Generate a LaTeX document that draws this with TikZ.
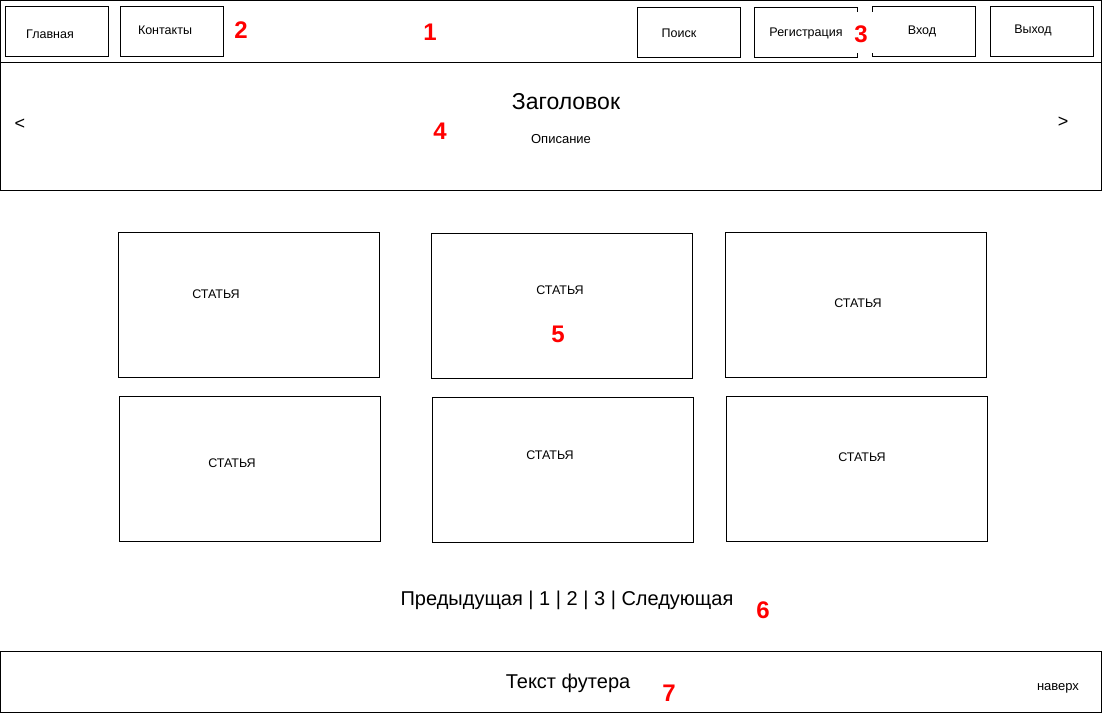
\documentclass[tikz,border=0pt]{standalone}
\usepackage{fontspec}
\setmainfont{Liberation Sans}
\begin{document}
\begin{tikzpicture}[x=1pt,y=-1pt,
  box/.style={draw=black,line width=1pt,fill=none,inner sep=0pt,minimum width=103pt,minimum height=50pt},
  art/.style={draw=black,line width=1pt,inner sep=0pt,minimum width=261pt,minimum height=145pt},
  small/.style={font=\fontsize{12.5}{14}\selectfont,inner sep=0pt},
  mid/.style={font=\fontsize{20}{24}\selectfont,inner sep=0pt},
  num/.style={text=red,font=\fontsize{24}{28}\selectfont\bfseries,inner sep=0pt}]
\useasboundingbox (0,0) rectangle (1103,713);
% header / slider frame
\draw[line width=1pt] (0.5,0.5) rectangle (1101.5,190.5);
\draw[line width=1pt] (0.5,62.5) -- (1101.5,62.5);
% menu boxes
\node[box] (home) at (56.5,31.5) {};
\node[small] (thome) at (50,34.5) {Главная};
\node[box] (cont) at (171.5,31.5) {};
\node[small] (tcont) at (165,30.5) {Контакты};
\node[num] (n2) at (241,30) {2};
\node[num] (n1) at (430,32) {1};
\node[box] (search) at (688.5,32.5) {};
\node[small] (tsearch) at (679,33.5) {Поиск};
\node[box] (reg) at (805.5,32.5) {};
\node[small] (treg) at (806,33.5) {Регистрация};
\node[box] (login) at (923.5,31.5) {};
\node[small] (tlogin) at (922,31.5) {Вход};
\node[box] (logout) at (1041.5,31.5) {};
\node[small] (tlogout) at (1033,30.5) {Выход};
\fill[white] (855.5,12) rectangle (873.5,53);
\node[num] (n3) at (861,34) {3};
% slider
\node[font=\fontsize{18}{22}\selectfont,inner sep=0pt] (prev) at (20,124.5) {<};
\node[font=\fontsize{18}{22}\selectfont,inner sep=0pt] (next) at (1063,122.5) {>};
\node[font=\fontsize{23}{27}\selectfont,inner sep=0pt] (title) at (566,101.5) {Заголовок};
\node[small,font=\fontsize{13}{15}\selectfont] (desc) at (561,139) {Описание};
\node[num] (n4) at (440,131) {4};
% articles
\node[art] (a1) at (248.5,304.5) {};
\node[small] (ta1) at (216,294) {СТАТЬЯ};
\node[art] (a2) at (561.5,305.5) {};
\node[small] (ta2) at (560,290) {СТАТЬЯ};
\node[art] (a3) at (855.5,304.5) {};
\node[small] (ta3) at (858,303) {СТАТЬЯ};
\node[art] (a4) at (249.5,468.5) {};
\node[small] (ta4) at (232,463) {СТАТЬЯ};
\node[art] (a5) at (562.5,469.5) {};
\node[small] (ta5) at (550,455) {СТАТЬЯ};
\node[art] (a6) at (856.5,468.5) {};
\node[small] (ta6) at (862,457) {СТАТЬЯ};
\node[num] (n5) at (558,334) {5};
% pagination
\node[mid] (pag) at (567,600.5) {Предыдущая | 1 | 2 | 3 | Следующая};
\node[num] (n6) at (763,610) {6};
% footer
\draw[line width=1pt] (0.5,651.5) rectangle (1101.5,712.5);
\node[mid] (foot) at (568,683.5) {Текст футера};
\node[num] (n7) at (669,693) {7};
\node[small,font=\fontsize{13}{15}\selectfont] (up) at (1058,688) {наверх};
\end{tikzpicture}
\end{document}
